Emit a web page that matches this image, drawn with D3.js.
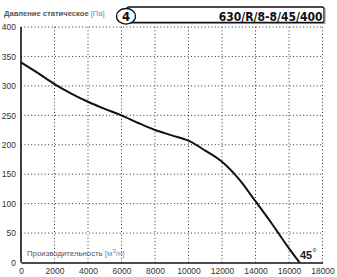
<!DOCTYPE html>
<html>
<head>
<meta charset="utf-8">
<script src="https://cdn.jsdelivr.net/npm/d3@7"></script>
<style>
  body { margin: 0; background: #fff; }
  text { font-family: "Liberation Sans", Arial, sans-serif; }
</style>
</head>
<body>
<script>
// fan curve
var flow     = [0, 1000, 2000, 3000, 4000, 5000, 6000, 7000, 8000, 9000, 10000, 11000, 12000, 13000, 14000, 15000, 16000, 16630];
var pressure = [340, 322, 303, 287, 273, 261, 250, 237, 225, 216, 207, 190, 171, 142, 104, 65, 24, 0];

var xTicks = [0, 2000, 4000, 6000, 8000, 10000, 12000, 14000, 16000, 18000];
var yTicks = [0, 50, 100, 150, 200, 250, 300, 350, 400];

var modelName = "630/R/8-8/45/400";
var curveNo = "4";
var angleLabel = "45";

var width = 337, height = 277;
var x = d3.scaleLinear().domain([0, 18000]).range([21, 322.5]);
var y = d3.scaleLinear().domain([0, 400]).range([262.5, 27]);

var svg = d3.select("body").append("svg")
    .attr("width", width)
    .attr("height", height);

// dotted grid
var grid = svg.append("g");
grid.selectAll("line.v")
    .data(xTicks.slice(1)).enter()
    .append("line")
    .attr("x1", function (d) { return x(d); })
    .attr("x2", function (d) { return x(d); })
    .attr("y1", y(400)).attr("y2", y(0))
    .attr("stroke", "#333").attr("stroke-width", 1)
    .attr("stroke-dasharray", "1,2.4");
grid.selectAll("line.h")
    .data(yTicks.slice(1)).enter()
    .append("line")
    .attr("y1", function (d) { return y(d); })
    .attr("y2", function (d) { return y(d); })
    .attr("x1", x(0)).attr("x2", x(18000))
    .attr("stroke", "#333").attr("stroke-width", 1)
    .attr("stroke-dasharray", "1,2.4");

// axes
var xAxis = d3.axisBottom(x).tickValues(xTicks).tickFormat(d3.format("d")).tickSize(0).tickPadding(5);
var yAxis = d3.axisLeft(y).tickValues(yTicks).tickSize(0).tickPadding(5);

var gx = svg.append("g").attr("transform", "translate(0," + y(0) + ")").call(xAxis);
var gy = svg.append("g").attr("transform", "translate(" + x(0) + ",0)").call(yAxis);
[gx, gy].forEach(function (g) {
    g.select(".domain").attr("stroke", "#111").attr("stroke-width", 1.6);
    g.selectAll("text").attr("fill", "#333").style("font-size", "8.5px")
        .style("font-family", "'Liberation Sans', Arial, sans-serif");
});
gy.select(".domain").attr("d", "M0," + y(400) + "V" + y(0));

// the curve
var line = d3.line()
    .x(function (d, i) { return x(flow[i]); })
    .y(function (d) { return y(d); })
    .curve(d3.curveMonotoneX);
svg.append("path")
    .datum(pressure)
    .attr("d", line)
    .attr("fill", "none")
    .attr("stroke", "#111")
    .attr("stroke-width", 2);

// axis titles
var yTitle = svg.append("text").attr("x", 4).attr("y", 16)
    .style("font-size", "7.6px").attr("fill", "#555").style("font-weight", "bold");
yTitle.append("tspan").text("Давление статическое ");
yTitle.append("tspan").attr("fill", "#5b8ccc").style("font-weight", "normal").text("[Па]");

var xTitle = svg.append("text").attr("x", 27).attr("y", 256)
    .style("font-size", "7.8px").attr("fill", "#555");
xTitle.append("tspan").text("Производительность ");
xTitle.append("tspan").attr("fill", "#5b8ccc").text("[м");
xTitle.append("tspan").attr("fill", "#5b8ccc").attr("dy", -3).style("font-size", "6px").text("3");
xTitle.append("tspan").attr("fill", "#5b8ccc").attr("dy", 3).text("/н]");

// 45° label
var ang = svg.append("text").attr("x", 300).attr("y", 259)
    .style("font-size", "11px").style("font-weight", "bold").attr("fill", "#222");
ang.append("tspan").text(angleLabel);
ang.append("tspan").attr("fill", "#4a7fc1").attr("dy", -3).text("°");

// header box with model name
svg.append("rect")
    .attr("x", 127).attr("y", 7).attr("width", 197).attr("height", 15.5)
    .attr("rx", 2)
    .attr("fill", "#fff").attr("stroke", "#111").attr("stroke-width", 1.3);
svg.append("path")
    .attr("d", "M130,23.5H325V8")
    .attr("fill", "none")
    .attr("stroke", "#888").attr("stroke-width", 1);
svg.append("ellipse")
    .attr("cx", 126).attr("cy", 16.3).attr("rx", 9.5).attr("ry", 7.8)
    .attr("fill", "#fff").attr("stroke", "#111").attr("stroke-width", 1.4);
svg.append("text")
    .attr("x", 126).attr("y", 21)
    .attr("text-anchor", "middle")
    .style("font-family", "'DejaVu Sans Condensed', 'DejaVu Sans', sans-serif")
    .style("font-size", "13px").style("font-weight", "bold")
    .style("font-stretch", "condensed")
    .attr("fill", "#111")
    .text(curveNo);
svg.append("text")
    .attr("x", 322.5).attr("y", 20.5)
    .attr("text-anchor", "end")
    .style("font-family", "'DejaVu Sans Condensed', 'DejaVu Sans', sans-serif")
    .style("font-size", "12px").style("font-weight", "bold")
    .style("font-stretch", "condensed")
    .attr("fill", "#111")
    .text(modelName);
</script>
</body>
</html>
